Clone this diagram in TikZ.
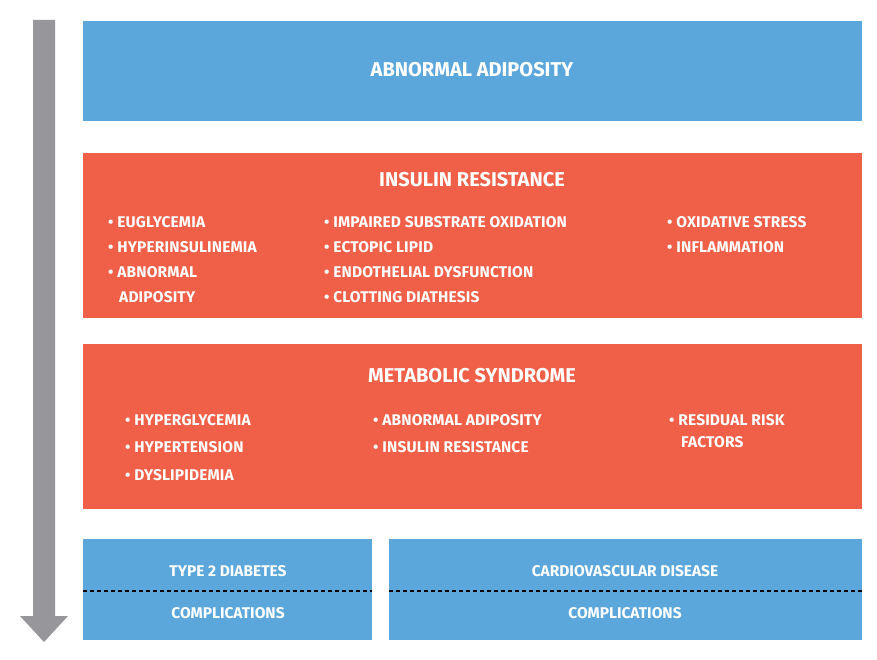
\documentclass[tikz,border=0pt]{standalone}
\usepackage{fontspec}
\setmainfont{Fira Sans}
\definecolor{cblue}{HTML}{5BA7DC}
\definecolor{cred}{HTML}{F05F47}
\definecolor{cgray}{HTML}{97979B}
\begin{document}
\begin{tikzpicture}[x=1pt,y=-1pt,
  box/.style={draw=none,inner sep=0pt,anchor=north west},
  ttl/.style={text=white,font=\fontsize{20}{24}\selectfont\bfseries},
  itm/.style={text=white,font=\fontsize{15.5}{25}\selectfont\bfseries\addfontfeature{LetterSpace=1},anchor=west,align=left,inner sep=0pt},
  sub/.style={text=white,font=\fontsize{15.5}{20}\selectfont\bfseries},
  dsh/.style={dashed,black,line width=1.2pt,dash pattern=on 4pt off 3pt}]
\useasboundingbox (0,0) rectangle (877,660);
\fill[white] (0,0) rectangle (877,660);
% arrow
\coordinate (atop) at (44,20);
\coordinate (atip) at (44,642);
\fill[cgray] (33,20) -- (55,20) -- (55,616) -- (68,616) -- (atip) -- (20,616) -- (33,616) -- cycle;
% boxes
\fill[cblue] (83,21) rectangle (862,121);
\fill[cred] (83,153) rectangle (862,318);
\fill[cred] (83,344) rectangle (862,509);
\fill[cblue] (83,539) rectangle (372,640);
\fill[cblue] (389,539) rectangle (862,640);
\coordinate (d1a) at (83,591); \coordinate (d1b) at (372,591);
\coordinate (d2a) at (389,591); \coordinate (d2b) at (862,591);
\draw[dsh] (d1a) -- (d1b);
\draw[dsh] (d2a) -- (d2b);
% titles
\node[ttl] (t1) at (472,70) {ABNORMAL ADIPOSITY};
\node[ttl] (t2) at (472,180) {INSULIN RESISTANCE};
\node[ttl] (t3) at (472,376) {METABOLIC SYNDROME};
% insulin resistance items
\node[itm] (a1) at (108,222) {• EUGLYCEMIA};
\node[itm] (a2) at (108,247) {• HYPERINSULINEMIA};
\node[itm] (a3) at (108,272) {• ABNORMAL};
\node[itm] (a4) at (119,297) {ADIPOSITY};
\node[itm] (b1) at (324,222) {• IMPAIRED SUBSTRATE OXIDATION};
\node[itm] (b2) at (324,247) {• ECTOPIC LIPID};
\node[itm] (b3) at (324,272) {• ENDOTHELIAL DYSFUNCTION};
\node[itm] (b4) at (324,297) {• CLOTTING DIATHESIS};
\node[itm] (c1) at (667,222) {• OXIDATIVE STRESS};
\node[itm] (c2) at (667,247) {• INFLAMMATION};
% metabolic syndrome items
\node[itm] (m1) at (125,420) {• HYPERGLYCEMIA};
\node[itm] (m2) at (125,447) {• HYPERTENSION};
\node[itm] (m3) at (125,475) {• DYSLIPIDEMIA};
\node[itm] (n1) at (373,420) {• ABNORMAL ADIPOSITY};
\node[itm] (n2) at (373,447) {• INSULIN RESISTANCE};
\node[itm] (o1) at (669,420) {• RESIDUAL RISK};
\node[itm] (o2) at (681,442) {FACTORS};
% bottom
\node[sub] (p1) at (228,571) {TYPE 2 DIABETES};
\node[sub] (p2) at (228,613) {COMPLICATIONS};
\node[sub] (q1) at (625,571) {CARDIOVASCULAR DISEASE};
\node[sub] (q2) at (625,613) {COMPLICATIONS};
\end{tikzpicture}
\end{document}
